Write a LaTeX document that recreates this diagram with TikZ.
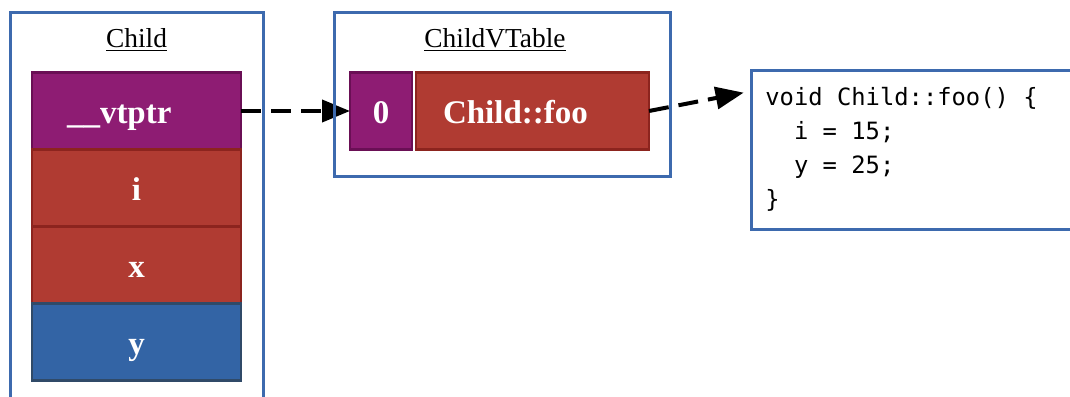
\documentclass[tikz,border=0pt]{standalone}
\usepackage{fontspec}
\setmainfont{Liberation Serif}
\setmonofont{DejaVu Sans Mono}
\usepackage{tikz}
\usetikzlibrary{arrows.meta, positioning, calc}

\definecolor{framblue}{HTML}{3D6AAE}
\definecolor{ptrfill}{HTML}{8E1C73}
\definecolor{ptrdraw}{HTML}{6A0F55}
\definecolor{memfill}{HTML}{B03B32}
\definecolor{memdraw}{HTML}{8C241E}
\definecolor{ownfill}{HTML}{3364A5}
\definecolor{owndraw}{HTML}{304A68}

\begin{document}
\begin{tikzpicture}[x=0.5pt, y=-0.5pt,
		frame/.style={rectangle, draw=framblue, line width=1.5pt},
		cell/.style={rectangle, line width=1.4pt, outer sep=0pt, minimum height=38.5pt, text height=12pt, text depth=0pt, text=white, font=\fontsize{16.5}{20}\selectfont\bfseries, inner sep=0pt},
		ptrcell/.style={cell, fill=ptrfill, draw=ptrdraw},
		memcell/.style={cell, fill=memfill, draw=memdraw},
		owncell/.style={cell, fill=ownfill, draw=owndraw},
		title/.style={font=\fontsize{13.7}{16}\selectfont},
		link/.style={-{Triangle[length=14pt, width=11pt]}, line width=2pt, dash pattern=on 10pt off 5pt}]
			\useasboundingbox (0,0) rectangle (1070,396);
			% object layout
			\node[ptrcell, text width=69.5pt, inner xsep=17.5pt, align=left] (vtptr) at (136.5, 111) {\_\_vtptr};
			\node[memcell, minimum width=104.5pt, below=0pt of vtptr] (i) {i};
			\node[memcell, minimum width=104.5pt, below=0pt of i] (x) {x};
			\node[owncell, minimum width=104.5pt, below=0pt of x] (y) {y};
			% vtable entries
			\node[ptrcell, minimum width=31pt] (slot) at (381, 111) {0};
			\node[memcell, right=2pt of slot, text width=89.5pt, inner xsep=13.5pt, align=left] (foo) {Child::foo};
			% arrows first, frames go over them
			\draw[link] (vtptr) -- (slot);
			\node[frame, minimum width=174.5pt, minimum height=79.5pt, inner sep=0pt] (code) at (925.5, 149.5) {};
			\draw[link, shorten >=3pt] (foo.east) -- ([yshift=-11.5pt]code.north west);
			\node[anchor=north west, inner sep=0pt, align=left, font=\fontsize{11.9}{17}\ttfamily] (body) at (765, 87) {void Child::foo() \{\\\ \ i = 15;\\\ \ y = 25;\\\}};
			\node[frame, minimum width=126.5pt, minimum height=210pt] (child) at (136.5, 222.5) {};
			\node[frame, minimum width=168pt, minimum height=82pt] (vtable) at (502, 94.5) {};
			\node[title] (childname) at (136.5, 40) {\underline{Child}};
			\node[title] (vtablename) at (495, 40) {\underline{ChildVTable}};
		\end{tikzpicture}
\end{document}
